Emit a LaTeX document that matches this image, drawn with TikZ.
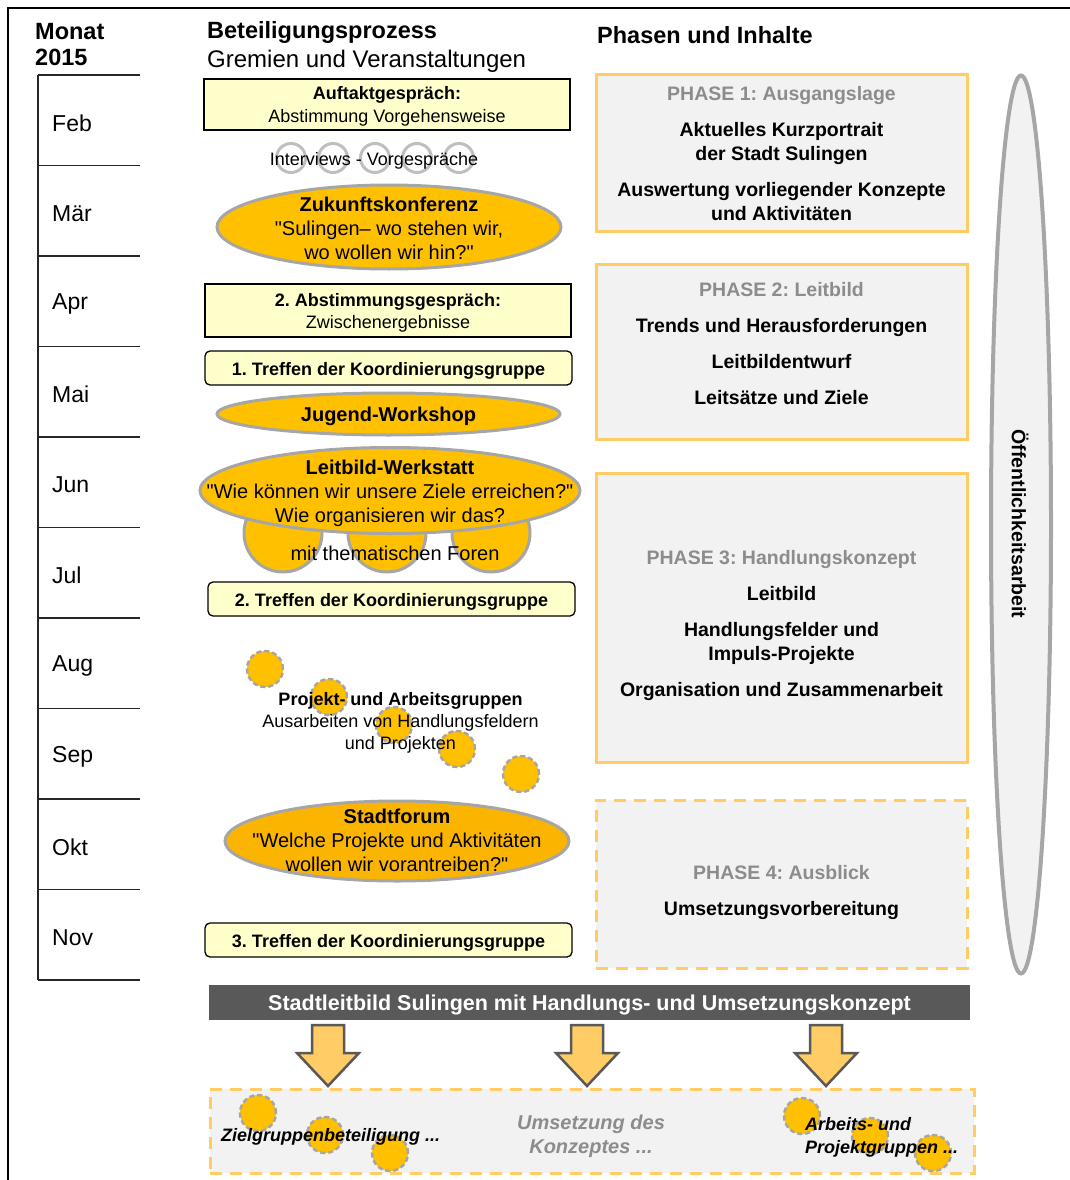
\documentclass[tikz,border=0pt]{standalone}
\usepackage{fontspec}
\setmainfont{Liberation Sans}
\newfontfamily\arial{Liberation Sans}
\usepackage{tikz}
\usetikzlibrary{shapes.geometric, positioning}
\usepackage{xcolor}
\definecolor{gelbhell}{HTML}{FFFFCC}
\definecolor{orangeA}{HTML}{FFC000}
\definecolor{orangeB}{HTML}{FBB400}
\definecolor{rahmen}{HTML}{A6A6A6}
\definecolor{kreisgrau}{HTML}{BFBFBF}
\definecolor{phasenrand}{HTML}{FFCC66}
\definecolor{phasengrund}{HTML}{F2F2F2}
\definecolor{grautext}{HTML}{8C8C8C}
\definecolor{dunkel}{HTML}{595959}
\newcommand{\fTitel}{\arial\fontsize{23.5}{26}\selectfont\bfseries}
\newcommand{\fGremien}{\arial\fontsize{24}{26}\selectfont}
\newcommand{\fMonat}{\arial\fontsize{23}{26}\selectfont}
\newcommand{\fBox}{\arial\fontsize{18}{22.5}\selectfont}
\newcommand{\fGruppe}{\arial\fontsize{18}{22}\selectfont}
\newcommand{\fEll}{\arial\fontsize{20}{24}\selectfont}
\newcommand{\fPhase}{\arial\fontsize{19.5}{24}\selectfont\bfseries}
\newcommand{\fBanner}{\arial\fontsize{21.5}{24}\selectfont\bfseries}
\newcommand{\fUnten}{\arial\fontsize{18}{23}\selectfont\bfseries\itshape}
\newcommand{\fUntenGr}{\arial\fontsize{20}{24}\selectfont\bfseries\itshape}
\frenchspacing

\begin{document}
\begin{tikzpicture}[x=1pt, y=-1pt,
    termin/.style = {draw=black, line width=1.3pt, fill=gelbhell, minimum width=366pt, inner sep=0pt},
    ttext/.style = {align=center, font=\fBox, inner sep=0pt},
    treffen/.style = {termin, rounded corners=5pt, minimum height=34pt, font=\fBox\bfseries, text height=15.5pt, text depth=0pt},
    veranst/.style = {ellipse, draw=rahmen, line width=3pt, fill=orangeA, inner sep=0pt},
    etext/.style = {align=center, font=\fEll, inner sep=0pt},
    forum/.style = {circle, draw=rahmen, line width=3pt, fill=orangeA, minimum size=78pt, inner sep=0pt},
    gruppe/.style = {circle, draw=rahmen, line width=2.5pt, dash pattern=on 5pt off 3pt, fill=orangeA, minimum size=36pt, inner sep=0pt},
    interv/.style = {circle, draw=kreisgrau, line width=3pt, minimum size=29pt, inner sep=0pt},
    phase/.style = {draw=phasenrand, line width=3pt, fill=phasengrund, minimum width=371pt, inner sep=0pt},
    ptext/.style = {align=center, font=\fPhase, inner sep=0pt},
    monat/.style = {anchor=west, font=\fMonat, inner sep=0pt},
    monatslinie/.style = {line width=1.5pt, draw=black!85},
    blockpfeil/.style = {draw=dunkel, line width=2.5pt, fill=phasenrand, line join=miter}
  ]
  % Parameter
  \pgfmathsetmacro{\dm}{90.5}
  \pgfmathsetmacro{\xp}{781.5}
  \useasboundingbox (0,0) rectangle (1070,1180);
  % Rahmen
  \draw[line width=2pt] (8,1180) -- (8,8) -- (1070,8);
  % Kopfzeile
  \node[anchor=west, align=left, font=\fTitel, inner sep=0pt] (monat) at (35,45) {Monat\\2015};
  \node[anchor=west, font=\fTitel, inner sep=0pt] (bet) at (207,32) {Beteiligungsprozess};
  \node[anchor=west, font=\fGremien, inner sep=0pt] (grem) at (207,61) {Gremien und Veranstaltungen};
  \node[anchor=west, font=\fTitel, inner sep=0pt] (phasen) at (597,35) {Phasen und Inhalte};
  % Monate
  \draw[monatslinie] (38,75) -- (38,980);
  \foreach \i in {0,...,10}
    \draw[monatslinie] (38,75+\dm*\i) -- (140,75+\dm*\i);
  \foreach \m [count=\i] in {Feb,Mär,Apr,Mai,Jun,Jul,Aug,Sep,Okt,Nov}
    \node[monat] (m\i) at (52,32.5+\dm*\i) {\m};
  % Gremien und Veranstaltungen
  \node[termin, minimum height=51pt] (auftakt) at (387,104.5) {};
  \node[ttext] (auftaktT) at (387,106.5) {\textbf{Auftaktgespräch:}\\Abstimmung Vorgehensweise};
  \foreach \x [count=\i] in {291,333,375,417,459}
    \node[interv] (iv\i) at (\x,158) {};
  \node[ttext] (interviews) at (374,160.5) {Interviews - Vorgespräche};
  \node[veranst, minimum width=344pt, minimum height=84pt] (zukunft) at (389,227) {};
  \node[etext] (zukunftT) at (389,228.5) {\textbf{Zukunftskonferenz}\\"Sulingen– wo stehen wir,\\wo wollen wir hin?"};
  \node[termin, minimum height=53pt] (abst) at (388,310.5) {};
  \node[ttext] (abstT) at (388,313) {\textbf{2. Abstimmungsgespräch:}\\Zwischenergebnisse};
  \node[treffen, minimum width=367pt] (treffenA) at (388.5,368) {1. Treffen der Koordinierungsgruppe};
  \node[veranst, minimum width=343pt, minimum height=42pt] (jugend) at (388.5,414) {};
  \node[etext, font=\fEll\bfseries] (jugendT) at (388.5,416) {Jugend-Workshop};
  % Leitbild-Werkstatt mit Foren
  \foreach \x [count=\i] in {283,387,491}
    \node[forum] (forum\i) at (\x,533) {};
  \node[veranst, minimum width=380pt, minimum height=86pt] (werkstatt) at (390,490.5) {};
  \node[etext] (werkstattT) at (390,493) {\textbf{Leitbild-Werkstatt}\\"Wie können wir unsere Ziele erreichen?"\\Wie organisieren wir das?};
  \node[etext] (forenT) at (395,553) {mit thematischen Foren};
  \node[treffen, minimum width=367pt] (treffenB) at (391.5,599) {2. Treffen der Koordinierungsgruppe};
  % Projekt- und Arbeitsgruppen
  \foreach \x/\y [count=\i] in {265/669, 329/697, 394/725, 457/749, 521/774}
    \node[gruppe] (gr\i) at (\x,\y) {};
  \node[ttext, font=\fGruppe] (gruppenT) at (400.5,722.5) {\textbf{Projekt- und Arbeitsgruppen}\\Ausarbeiten von Handlungsfeldern\\und Projekten};
  \node[veranst, fill=orangeB, minimum width=344pt, minimum height=80pt] (forum) at (397,841) {};
  \node[etext] (forumT) at (397,840.5) {\textbf{Stadtforum}\\"Welche Projekte und Aktivitäten\\wollen wir vorantreiben?"};
  \node[treffen, minimum width=367pt] (treffenC) at (388.5,940) {3. Treffen der Koordinierungsgruppe};
  % Phasen
  \node[phase, minimum height=156pt] (ph1) at (\xp,153) {};
  \node[ptext] (ph1T) at (\xp,154) {\textcolor{grautext}{PHASE 1: Ausgangslage}\\[12pt]Aktuelles Kurzportrait\\der Stadt Sulingen\\[12pt]Auswertung vorliegender Konzepte\\und Aktivitäten};
  \node[phase, minimum height=175pt] (ph2) at (\xp,351.5) {};
  \node[ptext] (ph2T) at (\xp,344) {\textcolor{grautext}{PHASE 2: Leitbild}\\[12pt]Trends und Herausforderungen\\[12pt]Leitbildentwurf\\[12pt]Leitsätze und Ziele};
  \node[phase, minimum height=289pt] (ph3) at (\xp,617.5) {};
  \node[ptext] (ph3T) at (\xp,625) {\textcolor{grautext}{PHASE 3: Handlungskonzept}\\[12pt]Leitbild\\[12pt]Handlungsfelder und\\Impuls-Projekte\\[12pt]Organisation und Zusammenarbeit};
  \node[phase, dash pattern=on 12pt off 8pt, minimum height=168pt] (ph4) at (\xp,884) {};
  \node[ptext] (ph4T) at (\xp,892) {\textcolor{grautext}{PHASE 4: Ausblick}\\[12pt]Umsetzungsvorbereitung};
  % Oeffentlichkeitsarbeit
  \node[ellipse, draw=rahmen, line width=4pt, fill=phasengrund, minimum width=60pt, minimum height=898pt, inner sep=0pt] (oeff) at (1021,524.5) {};
  \node[ptext, rotate=-90] (oeffT) at (1020,524) {Öffentlichkeitsarbeit};
  % Ergebnis und Umsetzung
  \node[fill=dunkel, minimum width=761pt, minimum height=35pt, inner sep=0pt, text=white, font=\fBanner, text height=16pt, text depth=0pt] (stadtleitbild) at (589.5,1002.5) {Stadtleitbild Sulingen mit Handlungs- und Umsetzungskonzept};
  \foreach \c in {328,587,826}
    \draw[blockpfeil] (\c-16,1025) -- (\c+16,1025) -- (\c+16,1053) -- (\c+31,1053) -- (\c,1086) -- (\c-31,1053) -- (\c-16,1053) -- cycle;
  \node[phase, dash pattern=on 12pt off 8pt, minimum width=764pt, minimum height=84pt] (umsetzung) at (592,1131) {};
  \foreach \x/\y [count=\i] in {258/1113, 325/1135, 390/1153, 802/1116, 870/1136, 933/1153}
    \node[gruppe] (ug\i) at (\x,\y) {};
  \node[font=\fUnten, anchor=west, inner sep=0pt] (zielgr) at (221,1137) {Zielgruppenbeteiligung ...};
  \node[font=\fUntenGr, text=grautext, align=center, inner sep=0pt] (umsetzungT) at (591,1136.5) {Umsetzung des\\Konzeptes ...};
  \node[font=\fUnten, align=left, anchor=west, inner sep=0pt] (arbeits) at (805,1137) {Arbeits- und\\Projektgruppen ...};
\end{tikzpicture}
\end{document}
